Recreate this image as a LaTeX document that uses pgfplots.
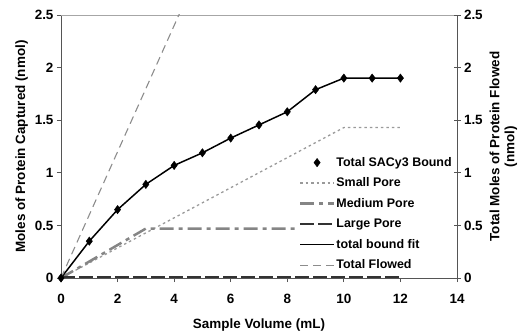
\documentclass[border=0pt]{standalone}
\usepackage{pgfplots}
\pgfplotsset{compat=1.18}
\usepackage{fontspec}
\setmainfont{Liberation Sans}
\definecolor{axgray}{HTML}{555555}
\definecolor{topgray}{HTML}{A6A6A6}
\definecolor{smallc}{HTML}{9A9A9A}
\definecolor{medc}{HTML}{858585}
\definecolor{largec}{HTML}{333333}
\definecolor{flowc}{HTML}{8C8C8C}
\begin{document}
\begin{tikzpicture}
\begin{axis}[
  at={(0,0)}, anchor=south west,
  scale only axis, width=396bp, height=263bp,
  xmin=0, xmax=14, ymin=0, ymax=2.5,
  xtick={0,2,...,14}, ytick={0,0.5,1,1.5,2,2.5},
  axis x line*=bottom, axis y line*=left,
  axis line style={axgray, line width=1pt, -},
  tick style={axgray, line width=0.8pt},
  tick align=outside, major tick length=4bp,
  /pgf/number format/assume math mode=true,
  ticklabel style={font=\fontsize{13.5}{15}\selectfont\bfseries},
  xticklabel style={yshift=-9bp},
  label style={font=\fontsize{13.5}{15}\selectfont\bfseries},
  xlabel={Sample Volume (mL)},
  ylabel={Moles of Protein Captured (nmol)},
  xlabel style={yshift=-8bp},
  clip=true,
  legend cell align=left,
  legend style={at={(rel axis cs:0.6,0.466)}, anchor=north west, fill=white, draw=none,
    inner sep=0pt, row sep=6.5bp,
    font=\fontsize{12.5}{14}\selectfont\bfseries,
    nodes={inner sep=1pt, text height=9.5bp, text depth=2.5bp}},
  legend image code/.code={\draw[mark repeat=2,mark phase=2,#1] plot coordinates {(0cm,0cm) (0.6cm,0cm) (1.2cm,0cm)};},
]
\draw[topgray, line width=1pt] (axis cs:0,2.5) -- (axis cs:14,2.5);
\addplot[only marks, mark=diamond*, mark size=4.2bp, black] coordinates {
(0,0) (1,0.35) (2,0.65) (3,0.89) (4,1.07) (5,1.19) (6,1.33) (7,1.455) (8,1.58) (9,1.79) (10,1.90) (11,1.90) (12,1.90)};
\addlegendentry{Total SACy3 Bound}
\addplot[smallc, line width=1.3pt, dash pattern=on 2.5bp off 3bp] coordinates {(0,0) (10,1.43) (12,1.43)};
\addlegendentry{Small Pore}
\addplot[medc, line width=2.5pt, dash pattern=on 14bp off 5bp on 4bp off 5bp] coordinates {(0,0) (3,0.47) (12,0.47)};
\addlegendentry{Medium Pore}
\addplot[largec, line width=2.6pt, dash pattern=on 14bp off 4bp] coordinates {(0,0.01) (12,0.01)};
\addlegendentry{Large Pore}
\addplot[black, line width=1.5pt] coordinates {
(0,0) (1,0.35) (2,0.65) (3,0.89) (4,1.07) (5,1.19) (6,1.33) (7,1.455) (8,1.58) (9,1.79) (10,1.90) (11,1.90) (12,1.90)};
\addlegendentry{total bound fit}
\addplot[flowc, line width=1.1pt, dash pattern=on 8bp off 5bp] coordinates {(0,0) (5,3)};
\addlegendentry{Total Flowed}
\end{axis}
\begin{axis}[
  at={(0,0)}, anchor=south west,
  scale only axis, width=396bp, height=263bp,
  xmin=0, xmax=14, ymin=0, ymax=2.5,
  ytick={0,0.5,1,1.5,2,2.5},
  axis x line=none, axis y line*=right,
  axis line style={axgray, line width=1pt, -},
  tick style={axgray, line width=0.8pt},
  tick align=center, major tick length=7bp,
  /pgf/number format/assume math mode=true,
  ticklabel style={font=\fontsize{13.5}{15}\selectfont\bfseries},
  label style={font=\fontsize{13.5}{15}\selectfont\bfseries},
  ylabel={Total Moles of Protein Flowed\\(nmol)},
  ylabel style={align=center, yshift=0bp},
]
\end{axis}
\pgfresetboundingbox
\useasboundingbox (-61bp,-53bp) rectangle (457bp,278bp);
\end{tikzpicture}
\end{document}
